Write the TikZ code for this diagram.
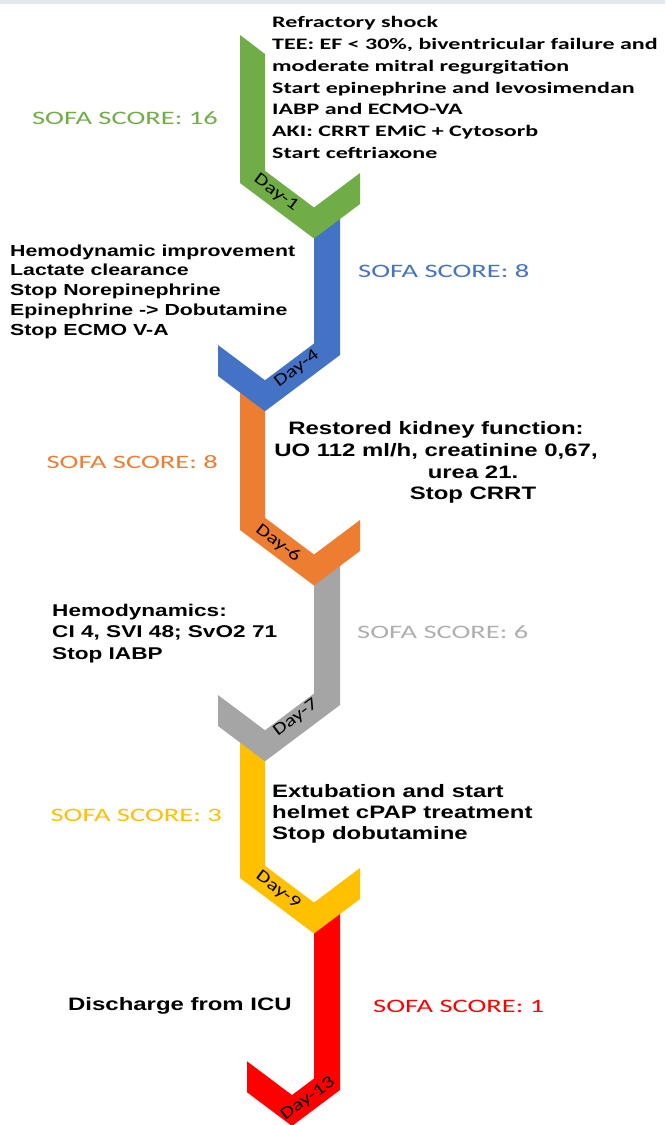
\documentclass[tikz,border=0pt]{standalone}
\usepackage{fontspec}
\newfontfamily\calfont[FakeStretch=1.5]{Carlito}
\newfontfamily\dayfont[FakeStretch=1.3]{Carlito}
\newfontfamily\arfont[FakeStretch=1.33]{Liberation Sans}
\definecolor{cgreen}{HTML}{70AD47}
\definecolor{cblue}{HTML}{4472C4}
\definecolor{corange}{HTML}{ED7D31}
\definecolor{cgrey}{HTML}{A5A5A5}
\definecolor{cyellow}{HTML}{FFC000}
\definecolor{cred}{HTML}{FF0000}
\definecolor{ctop}{HTML}{E4E8EC}
\definecolor{cgreytext}{HTML}{AFAFAF}
\tikzset{
  sofa/.style={inner sep=0pt, font=\calfont\fontsize{19}{22}\selectfont},
  daylabel/.style={inner sep=0pt, text=black, font=\dayfont\fontsize{17}{18}\selectfont},
  calnote/.style={inner sep=0pt, align=left, text=black, font=\calfont\bfseries\fontsize{16}{21.8}\selectfont},
  arnote/.style={inner sep=0pt, text=black, font=\arfont\bfseries\fontsize{18}{21.7}\selectfont},
}
\begin{document}
\begin{tikzpicture}[x=1pt,y=-1pt]
\useasboundingbox (0,0) rectangle (665,1125);
\clip (0,0) rectangle (665,1125);
\fill[white] (0,0) rectangle (665,1125);
\fill[ctop] (0,0) rectangle (665,3.5);

% segments, drawn last-to-first so earlier ones lie on top
\fill[cred] (314,908) -- (340,908) -- (340,1090) -- (292,1126) -- (247,1092.25)
  -- (247,1061.25) -- (292,1095) -- (314,1078.5) -- cycle;
\fill[cyellow] (240,735) -- (265,735) -- (265,865.75) -- (314,902.5) -- (360,868)
  -- (360,899) -- (314,933.5) -- (240,878) -- cycle;
\fill[cgrey] (314,560) -- (340,560) -- (340,705) -- (265,761.25) -- (218,726)
  -- (218,695) -- (265,730.25) -- (314,693.5) -- cycle;
\fill[corange] (240,385) -- (265,385) -- (265,517.75) -- (314,554.5) -- (360,520)
  -- (360,551) -- (314,585.5) -- (240,530) -- cycle;
\fill[cblue] (314,212) -- (340,212) -- (340,355) -- (265,411.25) -- (218,376)
  -- (218,345) -- (265,380.25) -- (314,343.5) -- cycle;
\fill[cgreen] (240,35) -- (265,54) -- (265,170.75) -- (314,207.5) -- (360,173)
  -- (360,204) -- (314,238.5) -- (240,183) -- cycle;

% day labels
\node[daylabel, rotate=-37] (d1) at (276,193) {Day-1};
\node[daylabel, rotate=37] (d4) at (297,369) {Day-4};
\node[daylabel, rotate=-37] (d6) at (278,543) {Day-6};
\node[daylabel, rotate=37] (d7) at (296,718) {Day-7};
\node[daylabel, rotate=-37] (d9) at (278,890) {Day-9};
\node[daylabel, rotate=36] (d13) at (308,1099) {Day-13};

% SOFA scores
\node[sofa, text=cgreen, anchor=east] (s1) at (218,118) {SOFA SCORE: 16};
\node[sofa, text=cblue, anchor=west] (s4) at (358,271) {SOFA SCORE: 8};
\node[sofa, text=corange, anchor=east] (s6) at (218,462) {SOFA SCORE: 8};
\node[sofa, text=cgreytext, anchor=west] (s7) at (357,632) {SOFA SCORE: 6};
\node[sofa, text=cyellow, anchor=east] (s9) at (222,815) {SOFA SCORE: 3};
\node[sofa, text=cred, anchor=west] (s13) at (373,1006) {SOFA SCORE: 1};

% notes
\node[calnote, anchor=west] (n1) at (272,87.5) {Refractory shock\\
TEE: EF < 30\%, biventricular failure and\\
moderate mitral regurgitation\\
Start epinephrine and levosimendan\\
IABP and ECMO-VA\\
AKI: CRRT EMiC + Cytosorb\\
Start ceftriaxone};
\node[arnote, align=left, anchor=west, font=\arfont\bfseries\fontsize{16}{19.7}\selectfont] (n4) at (10,291.5) {Hemodynamic improvement\\
Lactate clearance\\
Stop Norepinephrine\\
Epinephrine -> Dobutamine\\
Stop ECMO V-A};
\node[arnote, align=center] (n6) at (436,462.5) {Restored kidney function:\\
UO 112 ml/h, creatinine 0,67,\\
\hspace*{74pt}urea 21.\\
\hspace*{74pt}Stop CRRT};
\node[arnote, align=left, anchor=west, font=\arfont\bfseries\fontsize{17}{21.5}\selectfont] (n7) at (52,633.5) {Hemodynamics:\\
CI 4, SVI 48; SvO2 71\\
Stop IABP};
\node[arnote, align=left, anchor=west, font=\arfont\bfseries\fontsize{18}{21}\selectfont] (n9) at (272,814) {Extubation and start\\
helmet cPAP treatment\\
Stop dobutamine};
\node[arnote, anchor=west] (n13) at (68,1006) {Discharge from ICU};
\end{tikzpicture}
\end{document}
